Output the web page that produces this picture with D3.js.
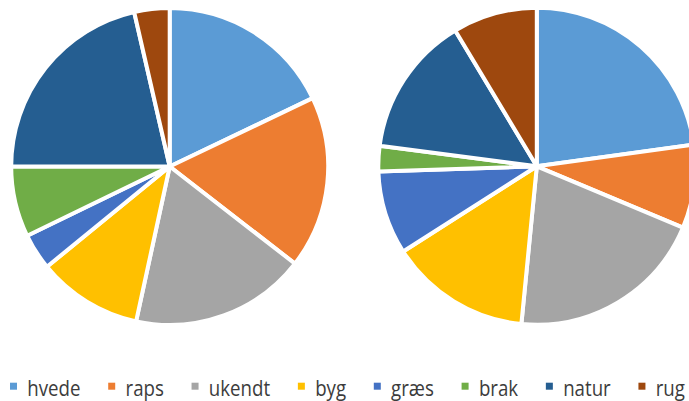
<!DOCTYPE html>
<html>
<head>
<meta charset="utf-8">
<script src="https://cdn.jsdelivr.net/npm/d3@7"></script>
<style>
  html, body { margin: 0; padding: 0; background: #fff; }
  svg { display: block; }
</style>
</head>
<body>
<svg id="chart" width="689" height="401"></svg>
<script>
// Land use categories, clockwise from 12 o'clock
const categories = ["hvede", "raps", "ukendt", "byg", "græs", "brak", "natur", "rug"];
const colors = ["#5B9BD5", "#ED7D31", "#A5A5A5", "#FFC000", "#4472C4", "#70AD47", "#255E91", "#9E480E"];

// Share of area (%) for each pie
const leftValues  = [17.9, 17.6, 17.9, 10.7, 3.7, 7.2, 21.4, 3.6];
const rightValues = [22.8, 8.5, 20.2, 14.4, 8.5, 2.6, 14.3, 8.6];

const svg = d3.select("#chart");

const color = d3.scaleOrdinal().domain(categories).range(colors);
const pie = d3.pie().sort(null).value(d => d.value);
const R = 158.5;
const arc = d3.arc().innerRadius(0).outerRadius(R);

function drawPie(values, cx, cy) {
  const data = categories.map((c, i) => ({ category: c, value: values[i] }));
  const g = svg.append("g").attr("transform", `translate(${cx},${cy})`);
  g.selectAll("path")
    .data(pie(data))
    .join("path")
    .attr("d", arc)
    .attr("fill", d => color(d.data.category))
    .attr("stroke", "#fff")
    .attr("stroke-width", 4)
    .attr("stroke-linejoin", "round");
}

drawPie(leftValues, 169.7, 166.5);
drawPie(rightValues, 536.8, 166.3);

// Legend along the bottom, spread between the left and right margins
const legend = svg.append("g");
const sq = 7, textOffset = 17.3, squeeze = 0.89;
const left = 10, right = 685;
const items = legend.selectAll("g.item")
  .data(categories)
  .join("g")
  .attr("class", "item");

items.append("rect")
  .attr("width", sq)
  .attr("height", sq)
  .attr("y", 382.7)
  .attr("fill", d => color(d));

items.append("text")
  .attr("font-family", "'Open Sans', sans-serif")
  .attr("font-size", 21)
  .attr("fill", "#3c3c3c")
  .text(d => d);

const widths = [];
items.each(function () {
  widths.push(d3.select(this).select("text").node().getComputedTextLength() * squeeze);
});
const itemW = widths.map(w => textOffset + w);
const itemGap = (right - left - d3.sum(itemW)) / (categories.length - 1);
let x = left;
items.each(function (d, i) {
  const g = d3.select(this);
  g.select("rect").attr("x", x);
  g.select("text")
    .attr("transform", `translate(${x + textOffset},396) scale(${squeeze},1)`);
  x += itemW[i] + itemGap;
});
</script>
</body>
</html>
